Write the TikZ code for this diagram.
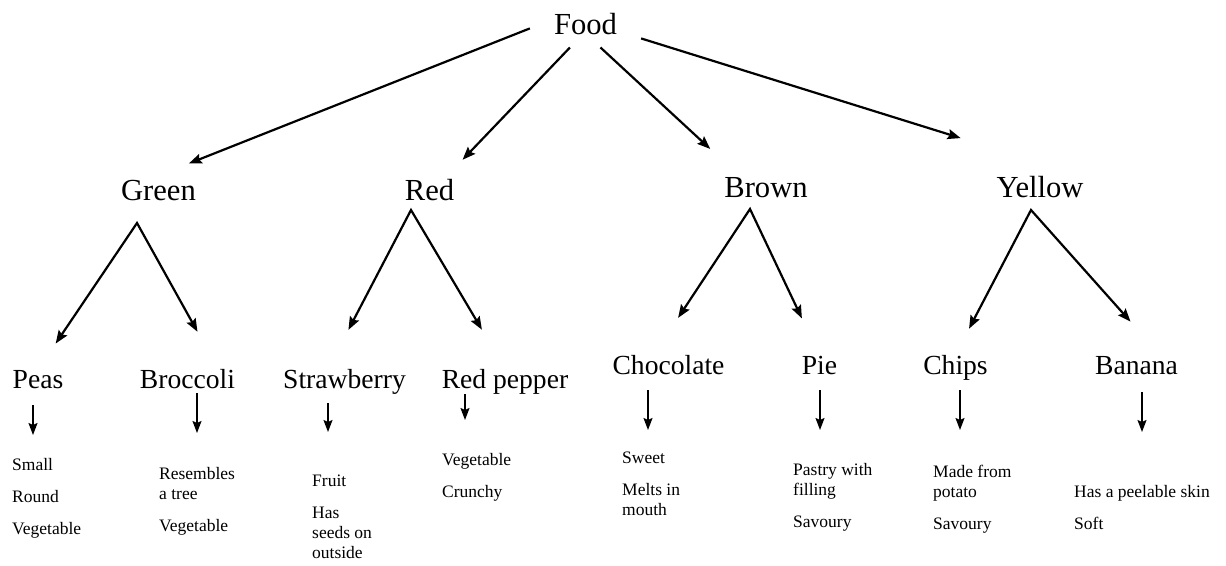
\documentclass[tikz,border=0pt]{standalone}
\usepackage{fontspec}
\setmainfont{Liberation Serif}
\usetikzlibrary{arrows.meta}

\tikzset{
  colourlabel/.style={font=\fontsize{30.6pt}{36pt}\selectfont, inner sep=0pt, anchor=base},
  itemlabel/.style={font=\fontsize{27.6pt}{32pt}\selectfont, inner sep=0pt, anchor=base},
  infotext/.style={font=\fontsize{17.5pt}{20pt}\selectfont, align=left, inner sep=0pt, anchor=north west},
  bigarrow/.style={line width=2.2pt, -{Stealth[length=13pt,width=10pt,inset=2pt]}},
  forkarrow/.style={line width=2.2pt, {Stealth[length=13pt,width=10pt,inset=2pt]}-{Stealth[length=13pt,width=10pt,inset=2pt]}},
  tick/.style={line width=1.5pt, -{Stealth[length=12pt,width=9pt,inset=2pt]}}
}

\begin{document}
\begin{tikzpicture}[x=1pt,y=-1pt]
  \useasboundingbox (0,0) rectangle (1226,565);

  \node[colourlabel, inner xsep=24pt, inner ysep=13pt] (food) at (585.5,34) {Food};

  \node[colourlabel] (green) at (158.5,200) {Green};
  \node[colourlabel] (red) at (429.5,200) {Red};
  \node[colourlabel] (brown) at (766,197) {Brown};
  \node[colourlabel] (yellow) at (1040,197) {Yellow};

  \draw[bigarrow, shorten >=43.5pt] (food.185) -- (green.134);
  \draw[bigarrow, shorten >=26pt] (food.237) -- (red.36);
  \draw[bigarrow, shorten >=41pt] (food.302) -- (brown.158);
  \draw[bigarrow, shorten >=126pt] (food.345) -- (yellow.15);

  \node[itemlabel] (peas) at (38,388) {Peas};
  \node[itemlabel] (broccoli) at (187.5,388) {Broccoli};
  \node[itemlabel] (strawberry) at (344.5,388) {Strawberry};
  \node[itemlabel] (redpepper) at (505,388) {Red pepper};
  \node[itemlabel] (chocolate) at (668.5,374) {Chocolate};
  \node[itemlabel] (pie) at (819.5,374) {Pie};
  \node[itemlabel] (chips) at (955.5,374) {Chips};
  \node[itemlabel] (banana) at (1136.5,374) {Banana};

  \coordinate (greenfork) at (137,223);
  \coordinate (redfork) at (411,210);
  \coordinate (brownfork) at (750,209);
  \coordinate (yellowfork) at (1031,210);

  \draw[forkarrow, shorten <=31.6pt, shorten >=42.2pt] (peas.north) -- (greenfork) -- (broccoli.18);
  \draw[forkarrow, shorten <=43.8pt, shorten >=45.3pt] (strawberry.142) -- (redfork) -- (redpepper.north);
  \draw[forkarrow, shorten <=44.1pt, shorten >=41.1pt] (chocolate.146) -- (brownfork) -- (pie.north);
  \draw[forkarrow, shorten <=29.3pt, shorten >=45.7pt] (chips.north) -- (yellowfork) -- (banana.21);

  \node[infotext] (peasinfo) at (12,458) {Small\\[12pt]Round\\[12pt]Vegetable};
  \node[infotext] (broccoliinfo) at (159,467) {Resembles\\a tree\\[12pt]Vegetable};
  \node[infotext] (strawberryinfo) at (312,475) {Fruit\\[12pt]Has\\seeds on\\outside};
  \node[infotext] (redpepperinfo) at (442,453) {Vegetable\\[12pt]Crunchy};
  \node[infotext] (chocolateinfo) at (622,452) {Sweet\\[12pt]Melts in\\mouth};
  \node[infotext] (pieinfo) at (793,463) {Pastry with\\filling\\[12pt]Savoury};
  \node[infotext] (chipsinfo) at (933,465) {Made from\\potato\\[12pt]Savoury};
  \node[infotext] (bananainfo) at (1074,485) {Has a peelable skin\\[12pt]Soft};

  \draw[tick, shorten <=17pt, shorten >=23pt] ([xshift=-5pt]peas.south) -- ([xshift=-5pt]peas.south |- peasinfo.north);
  \draw[tick, shorten <=5pt, shorten >=34pt] ([xshift=9.5pt]broccoli.south) -- ([xshift=9.5pt]broccoli.south |- broccoliinfo.north);
  \draw[tick, shorten <=9pt, shorten >=43pt] ([xshift=-16.5pt]strawberry.south) -- ([xshift=-16.5pt]strawberry.south |- strawberryinfo.north);
  \draw[tick, shorten <=0pt, shorten >=33pt] ([xshift=-40pt]redpepper.south) -- ([xshift=-40pt]redpepper.south |- redpepperinfo.north);
  \draw[tick, shorten <=16pt, shorten >=22pt] ([xshift=-20.5pt]chocolate.south) -- ([xshift=-20.5pt]chocolate.south |- chocolateinfo.north);
  \draw[tick, shorten <=16pt, shorten >=33pt] ([xshift=0.5pt]pie.south) -- ([xshift=0.5pt]pie.south |- pieinfo.north);
  \draw[tick, shorten <=10pt, shorten >=35pt] ([xshift=4.5pt]chips.south) -- ([xshift=4.5pt]chips.south |- chipsinfo.north);
  \draw[tick, shorten <=18pt, shorten >=53pt] ([xshift=5.5pt]banana.south) -- ([xshift=5.5pt]banana.south |- bananainfo.north);
\end{tikzpicture}
\end{document}
